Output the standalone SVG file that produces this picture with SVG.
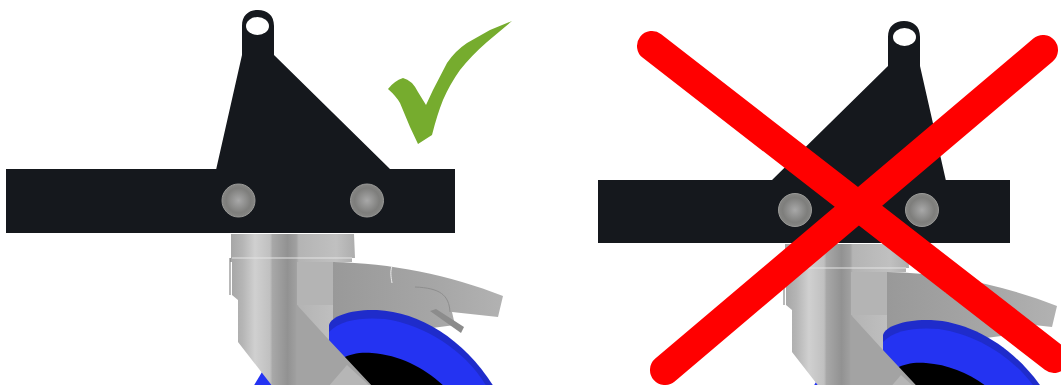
<svg xmlns="http://www.w3.org/2000/svg" width="1061" height="385" viewBox="0 0 1061 385">
<style>
.dark{fill:#15181d}
.x{stroke:#ff0000;stroke-width:30;stroke-linecap:round;fill:none}
.bolt{fill:url(#bolt);stroke:#9a9a98;stroke-width:1}
</style>
<defs>
<linearGradient id="body" gradientUnits="userSpaceOnUse" x1="230" y1="0" x2="355" y2="0">
<stop offset="0" stop-color="#a5a5a5"/><stop offset=".1" stop-color="#b5b5b5"/><stop offset=".2" stop-color="#d0d0d0"/><stop offset=".32" stop-color="#c0c0c0"/><stop offset=".34" stop-color="#a8a8a8"/><stop offset=".46" stop-color="#929292"/><stop offset=".53" stop-color="#a0a0a0"/><stop offset=".55" stop-color="#b4b4b4"/><stop offset=".85" stop-color="#c0c0c0"/><stop offset="1" stop-color="#adadad"/>
</linearGradient>
<linearGradient id="fender" gradientUnits="userSpaceOnUse" x1="333" y1="0" x2="503" y2="0">
<stop offset="0" stop-color="#999999"/><stop offset=".6" stop-color="#a6a6a6"/><stop offset="1" stop-color="#b2b2b2"/>
</linearGradient>
<radialGradient id="bolt"><stop offset="0" stop-color="#a8a8a8"/><stop offset=".75" stop-color="#7e7e7c"/><stop offset="1" stop-color="#858583"/></radialGradient>
<g id="bracket">
<path class="dark" d="M216 170L242 55V26C242 15 249 10 258 10C267 10 274 15 274 26V55L390 169Z"/>
<ellipse cx="257.500" cy="26" rx="11.500" ry="9" fill="#fff"/>
</g>
<g id="caster">
<path d="M253 387L262 372L285 387Z" fill="#2433f2"/>
<path d="M231 234H354L355 258H352V262H333V340H297V387H273L238 342V300L232 295V262H230V258H231Z" fill="url(#body)"/>
<path d="M333 262C390 263 450 275 503 296L498 317L452 312L455 325L340 340L333 320Z" fill="url(#fender)"/>
<path d="M430 311L436 309L464 327L461 333Z" fill="#8c8c8c"/>
<path d="M329 325C331 316 352 309 377 310C420 312 465 340 494 387H329Z" fill="#1f2ccb"/>
<path d="M329 332C340 320 362 317 385 319C425 325 465 350 487 387H329Z" fill="#2433f2"/>
<path d="M343 358C350 354 360 352 372 353C400 355 425 368 445 387H343Z" fill="#000"/>
<path d="M297 305L329 340L373 387H297Z" fill="#a3a3a3"/>
<path d="M328 387L347 365L371 387Z" fill="#b6b6b6"/>
<path d="M297 262H333V305H315L297 305Z" fill="#b4b4b4"/>
<path d="M232 258H352" stroke="#e4e4e4" stroke-width="1.200" fill="none"/>
<path d="M230 258V295" stroke="#8a8a8a" stroke-width="1.200" fill="none"/>
<path d="M392 266C390 272 391 277 392 283" stroke="#eeeeee" stroke-width="1" fill="none"/>
<path d="M415 287C440 288 449 295 450 312" stroke="#8e8e8e" stroke-width="1" fill="none"/>
</g>
</defs>
<g id="left-assembly">
<use href="#caster"/>
<use href="#bracket"/>
<rect class="dark" x="6" y="169" width="449" height="64"/>
<circle class="bolt" cx="238.500" cy="200.500" r="16.500"/>
<circle class="bolt" cx="367" cy="200.500" r="16.500"/>
</g>
<path id="check" d="M512 21L490 30L467 43Q455 51 447 63L433 90L426 105L418 92Q412 80 403 78Q394 81 388 89Q396 96 400 103L410 127L418 144L432 135Q437 115 443 100Q450 84 460 70Q472 55 487 42Z" fill="#76ac2e"/>
<g id="right-assembly">
<use href="#caster" transform="translate(554 10)"/>
<use href="#bracket" transform="translate(1162 11) scale(-1 1)"/>
<rect class="dark" x="598" y="180" width="412" height="63"/>
<circle class="bolt" cx="795" cy="210" r="16.500"/>
<circle class="bolt" cx="922" cy="210" r="16.500"/>
</g>
<g id="cross">
<path class="x" d="M652 46L1054 358"/>
<path class="x" d="M1043 50L665 370"/>
</g>
</svg>
